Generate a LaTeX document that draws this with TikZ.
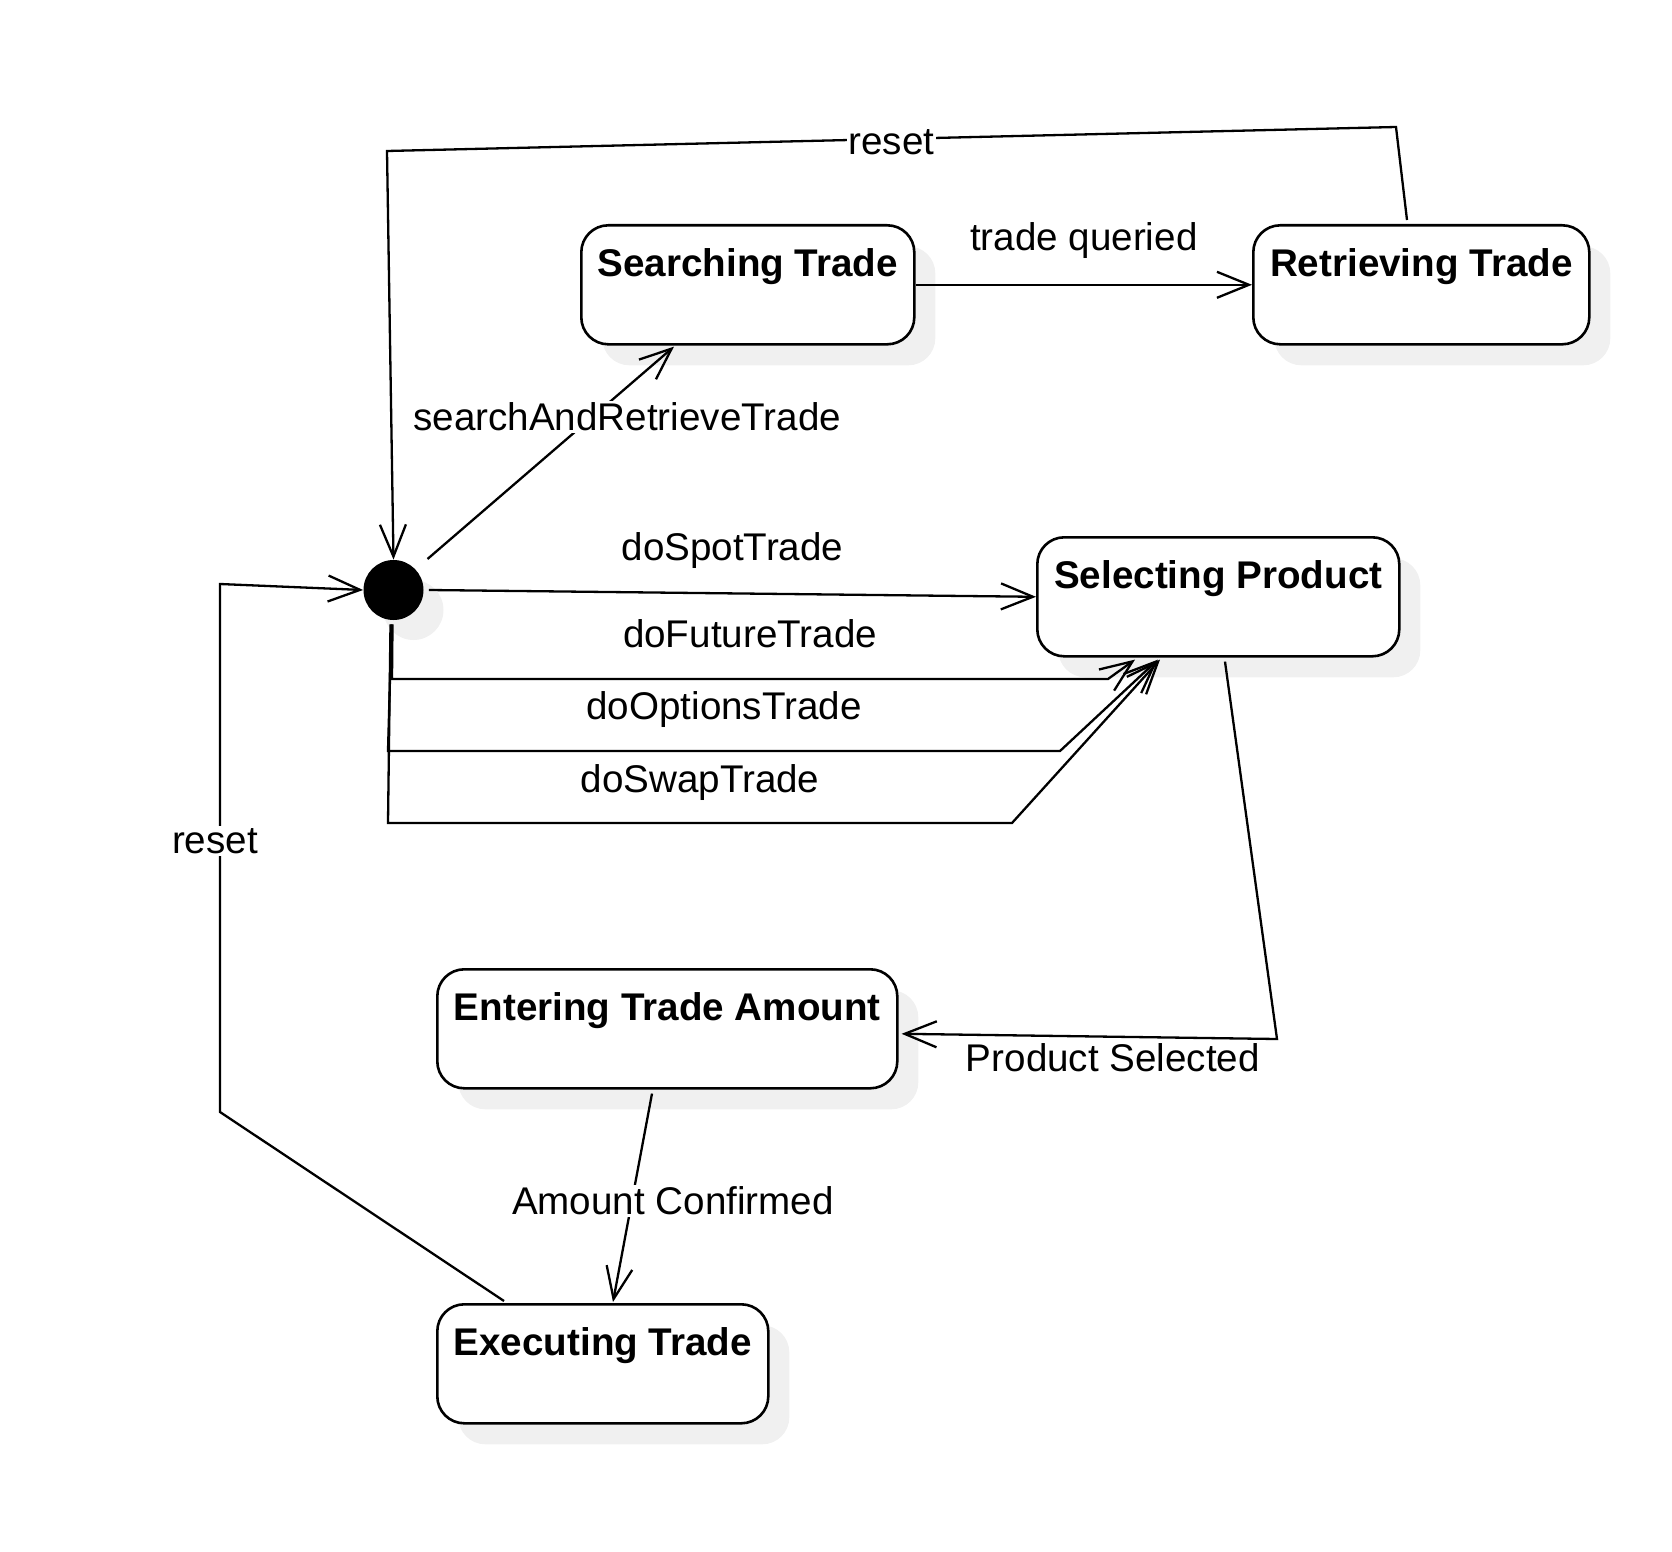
\documentclass[tikz,border=0pt]{standalone}
\usepackage{fontspec}
\setmainfont{Liberation Sans}
\usetikzlibrary{arrows.meta,shadows}
\begin{document}
\begin{tikzpicture}[x=0.5pt,y=-0.5pt,
  statebox/.style={draw, line width=1.3pt, rounded corners=13.5pt, fill=white,
    inner sep=0pt, text height=25.5pt, text depth=34pt, anchor=north west,
    font=\fontsize{19.3}{23}\selectfont\bfseries,
    drop shadow={shadow xshift=10.5pt, shadow yshift=-10.5pt, fill=black!6, opacity=1}},
  initstate/.style={circle, fill=black, minimum size=30pt, inner sep=0pt,
    drop shadow={shadow xshift=10pt, shadow yshift=-10pt, fill=black!6, opacity=1}},
  edge/.style={line width=1.15pt, -{Straight Barb[length=16pt,width=13pt,line width=1.15pt]}},
  lbl/.style={font=\fontsize{19.3}{23}\selectfont, inner sep=1pt},
  lblw/.style={lbl, fill=white}]
\useasboundingbox (0,0) rectangle (1672,1552);
% nodes
\node[statebox, minimum width=166.5pt] (search) at (580,224) {Searching Trade};
\node[statebox, minimum width=168pt] (retr) at (1252,224) {Retrieving Trade};
\node[statebox, minimum width=181pt] (sel) at (1036,536) {Selecting Product};
\node[statebox, minimum width=230pt] (ent) at (436,968) {Entering Trade Amount};
\node[statebox, minimum width=165.5pt] (exec) at (436,1303) {Executing Trade};
\node[initstate] (init) at (393.5,590) {};
% connectors
\draw[edge] ([shift={(155,-4)}]retr.north west) -- (1396,127)
  -- node[lblw, yshift=-1.5pt] {reset} (387,151) -- (init.north);
\draw[edge] ([shift={(34,-31)}]init.center)
  -- node[lblw, pos=0.668, xshift=17.5pt] {searchAndRetrieveTrade}
  ([shift={(94,1)}]search.south west);
\draw[edge] (search.east) -- node[lbl, yshift=22pt] {trade queried} (retr.west);
\draw[edge] ([shift={(5,0)}]init.east) -- node[lbl, yshift=21.5pt] {doSpotTrade} (sel.west);
\draw[edge] ([shift={(-1,4)}]init.south) -- (392,679)
  -- node[lbl, yshift=22.5pt] {doFutureTrade} (1108,679)
  -- ([shift={(99,2)}]sel.south west);
\draw[edge] ([shift={(-2,4)}]init.south) -- (388,751)
  -- node[lbl, yshift=20.5pt] {doOptionsTrade} (1060,751)
  -- ([shift={(122,2)}]sel.south west);
\draw[edge] ([shift={(-3,4)}]init.south) -- (388,823)
  -- node[lbl, yshift=20pt] {doSwapTrade} (1012,823)
  -- ([shift={(124,2)}]sel.south west);
\draw[edge] ([shift={(189,4)}]sel.south west) -- (1277,1039)
  -- node[lbl, pos=0.437, yshift=-10.3pt] {Product Selected}
  ([shift={(3,5)}]ent.east);
\draw[edge] ([shift={(216,4)}]ent.south west)
  -- node[lblw, pos=0.514, xshift=20.5pt] {Amount Confirmed}
  ([shift={(177,-1)}]exec.north west);
\draw[edge] ([shift={(68,-2)}]exec.north west) -- (220,1112)
  -- node[lblw, xshift=-2.5pt, yshift=3.5pt] {reset} (220,584) -- (init.west);
\end{tikzpicture}
\end{document}
